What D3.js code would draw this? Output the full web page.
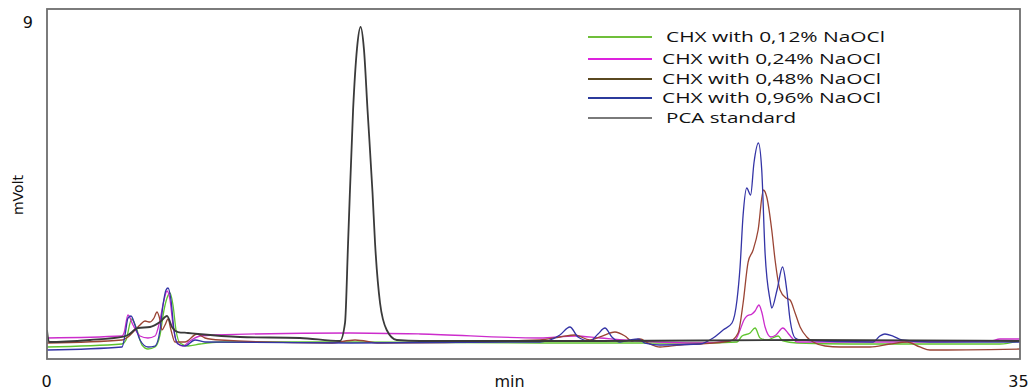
<!DOCTYPE html>
<html><head><meta charset="utf-8">
<script src="https://cdn.jsdelivr.net/npm/d3@7"></script>
<style>
html,body{margin:0;padding:0;background:#fff;}
svg{display:block;}
</style></head>
<body>
<svg id="chart" width="1029" height="391"></svg>
<script>
// ---- data: [time (min), signal (mV)] ----
const seriesNames = ["CHX with 0,12% NaOCl","CHX with 0,24% NaOCl","CHX with 0,48% NaOCl","CHX with 0,96% NaOCl","PCA standard"];
const xTicks = [0, 35];
const yTicks = [9];

const chx012 = [[0,0.309],[2.698,0.386],[2.842,0.489],[3.047,1.029],[3.237,0.746],[3.417,0.360],[3.633,0.257],[3.885,0.309],[4.065,0.617],[4.209,1.260],[4.317,1.569],[4.425,1.697],[4.532,1.389],[4.640,0.746],[4.784,0.411],[5.072,0.334],[5.504,0.386],[6.223,0.437],[10.90,0.437],[17.73,0.411],[23.49,0.411],[24.82,0.437],[25.00,0.591],[25.29,0.669],[25.47,0.797],[25.65,0.540],[25.90,0.489],[26.30,0.591],[26.47,0.463],[26.98,0.411],[28.89,0.386],[34.28,0.386],[35,0.463]];

const chx024 = [[0,0.540],[2.698,0.591],[2.770,0.669],[2.914,1.131],[3.094,0.874],[3.345,0.591],[3.633,0.540],[3.885,0.591],[4.065,1.003],[4.209,1.517],[4.317,1.749],[4.425,1.517],[4.532,0.874],[4.676,0.411],[4.892,0.334],[5.144,0.463],[5.504,0.591],[6.043,0.617],[10.90,0.669],[13.42,0.643],[17.73,0.540],[18.99,0.591],[19.89,0.540],[21.33,0.463],[23.49,0.411],[24.75,0.489],[24.93,0.746],[25.07,1.003],[25.18,1.106],[25.36,1.157],[25.47,1.234],[25.61,1.389],[25.72,1.183],[25.83,0.823],[26.04,0.566],[26.22,0.617],[26.47,0.797],[26.65,0.669],[26.80,0.540],[26.98,0.437],[30.68,0.437],[33.92,0.463],[34.28,0.514],[35,0.514]];

const chx048 = [[0,0.411],[2.698,0.489],[2.914,0.566],[3.165,0.746],[3.345,0.874],[3.525,0.977],[3.705,0.951],[3.849,1.054],[3.957,1.209],[4.065,1.003],[4.137,0.746],[4.245,0.874],[4.353,1.029],[4.460,0.746],[4.604,0.437],[4.964,0.437],[5.396,0.643],[5.683,0.540],[6.223,0.489],[10.18,0.411],[11.08,0.489],[11.98,0.411],[17.73,0.489],[18.45,0.566],[18.99,0.617],[19.53,0.489],[19.89,0.566],[20.43,0.694],[20.79,0.591],[21.04,0.463],[21.33,0.514],[21.62,0.411],[22.05,0.309],[22.77,0.360],[23.49,0.386],[24.57,0.463],[24.86,0.669],[25.04,1.440],[25.22,2.494],[25.40,2.803],[25.58,3.317],[25.77,4.346],[25.89,4.166],[26.07,3.317],[26.19,2.546],[26.37,1.774],[26.58,1.569],[26.73,1.517],[26.91,1.183],[27.09,0.823],[27.33,0.566],[27.56,0.437],[27.99,0.334],[28.53,0.309],[29.60,0.309],[30.32,0.386],[30.94,0.437],[31.40,0.309],[31.76,0.231],[35,0.257]];

const chx096 = [[0,0.231],[2.698,0.309],[2.806,0.617],[2.914,1.054],[3.022,1.106],[3.165,0.874],[3.345,0.489],[3.633,0.309],[3.885,0.334],[4.065,0.746],[4.173,1.389],[4.281,1.774],[4.353,1.826],[4.460,1.517],[4.568,0.746],[4.712,0.386],[4.964,0.334],[5.324,0.489],[5.683,0.437],[10.90,0.411],[17.73,0.437],[18.45,0.617],[18.81,0.823],[19.10,0.566],[19.53,0.463],[19.82,0.643],[20.07,0.797],[20.32,0.566],[20.61,0.437],[20.97,0.489],[21.26,0.514],[21.51,0.411],[22.05,0.360],[23.49,0.386],[23.96,0.540],[24.32,0.746],[24.64,0.926],[24.82,1.517],[24.93,2.366],[25.04,3.703],[25.17,4.397],[25.31,4.217],[25.43,5.040],[25.59,5.554],[25.71,4.860],[25.83,2.726],[26.01,1.517],[26.07,1.311],[26.26,1.774],[26.46,2.366],[26.61,1.774],[26.73,1.003],[26.91,0.540],[27.09,0.489],[29.71,0.437],[29.96,0.591],[30.14,0.643],[30.43,0.591],[30.76,0.489],[31.76,0.437],[35,0.437]];

const pcaStandard = [[0,0.746],[0.072,0.437],[1.547,0.489],[2.698,0.566],[2.914,0.617],[3.273,0.797],[3.705,0.823],[4.065,0.951],[4.317,1.106],[4.496,0.823],[4.712,0.694],[5.072,0.669],[5.432,0.643],[6.942,0.566],[9.101,0.540],[10.54,0.463],[10.72,0.926],[10.83,2.983],[11.01,6.403],[11.15,7.975],[11.28,8.537],[11.40,7.975],[11.53,6.403],[11.71,4.269],[11.80,2.983],[11.98,1.440],[12.22,0.746],[12.58,0.489],[13.42,0.463],[19.89,0.463],[27.09,0.489],[35,0.463]];

const allSeries = [chx012, chx024, chx048, chx096, pcaStandard];
const lineColors = ["#5fc42e","#cc2ccc","#9a4434","#3434a6","#3a3a3a"];
const legendColors = ["#6fbf3a","#dd22dd","#5a4820","#2b3a9c","#7a7a7a"];

const svg = d3.select("#chart");
const L = 47, R = 1020, T = 9, B = 359;
const x = d3.scaleLinear().domain([0,35]).range([L,R]);
const y = d3.scaleLinear().domain([0,9]).range([B,T]);

svg.append("defs").append("clipPath").attr("id","clip")
  .append("rect").attr("x",L).attr("y",T).attr("width",R-L).attr("height",B-T);

const line = d3.line().x(d=>x(d[0])).y(d=>y(d[1])).curve(d3.curveMonotoneX);

const g = svg.append("g").attr("clip-path","url(#clip)");
allSeries.forEach((s,i)=>{
  g.append("path").datum(s).attr("d",line)
    .attr("fill","none").attr("stroke",lineColors[i])
    .attr("stroke-width", i===4 ? 1.8 : 1.3)
    .attr("stroke-linejoin","round");
});

// frame
svg.append("rect").attr("x",L).attr("y",T).attr("width",R-L).attr("height",B-T)
  .attr("fill","none").attr("stroke","#6e6e6e").attr("stroke-width",1.8);

// axes
const xAxis = svg.append("g").attr("transform",`translate(0,${B})`)
  .call(d3.axisBottom(x).tickValues(xTicks).tickSize(0).tickPadding(17).tickFormat(d3.format("d")));
xAxis.select(".domain").remove();
xAxis.selectAll("text").attr("font-family","DejaVu Sans, Verdana, sans-serif").attr("font-size",16).attr("fill","#111");
xAxis.selectAll(".tick").filter(d=>d===0).select("text").attr("dx",-1);
xAxis.selectAll(".tick").filter(d=>d===35).select("text").attr("dx",-2);

const yAxis = svg.append("g").attr("transform",`translate(${L},0)`)
  .call(d3.axisLeft(y).tickValues(yTicks).tickSize(0).tickPadding(14).tickFormat(d3.format("d")));
yAxis.select(".domain").remove();
yAxis.selectAll("text").attr("font-family","DejaVu Sans, Verdana, sans-serif").attr("font-size",16).attr("fill","#111").attr("dy","1.15em");

svg.append("text").attr("x",(L+R)/2 - 24).attr("y",387).attr("text-anchor","middle")
  .attr("font-family","DejaVu Sans, Verdana, sans-serif").attr("font-size",16).attr("fill","#111").text("min");

svg.append("text").attr("transform","translate(23,195) rotate(-90)").attr("text-anchor","middle")
  .attr("font-family","DejaVu Sans, Verdana, sans-serif").attr("font-size",14).attr("fill","#111").text("mVolt");

// legend
const legY = [37, 59, 79, 98, 118];
const legTx = [666, 662, 662, 662, 666];
const leg = svg.append("g");
seriesNames.forEach((n,i)=>{
  leg.append("line").attr("x1",588).attr("x2",652).attr("y1",legY[i]).attr("y2",legY[i])
    .attr("stroke",legendColors[i]).attr("stroke-width",2);
  leg.append("text").attr("x",legTx[i]).attr("y",legY[i]).attr("dy","0.36em")
    .attr("font-family","Open Sans, sans-serif").attr("font-size",15).attr("fill","#111")
    .attr("textLength", i===4 ? 130 : 219).attr("lengthAdjust","spacingAndGlyphs")
    .text(n);
});
</script>
</body></html>
